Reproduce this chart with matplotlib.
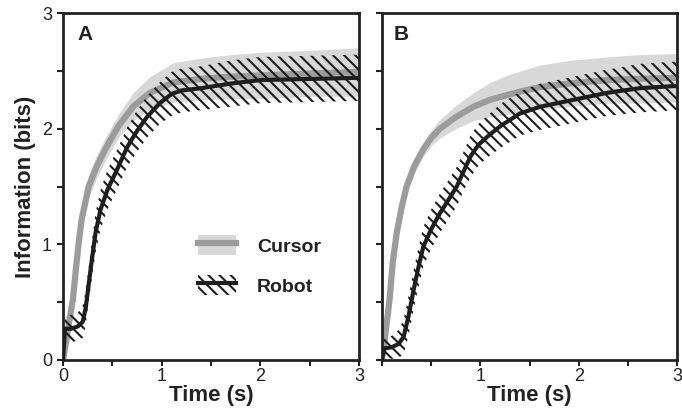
import matplotlib
matplotlib.use("Agg")
import matplotlib.pyplot as plt
from matplotlib.patches import Patch
from matplotlib.lines import Line2D
import numpy as np

plt.rcParams['font.family'] = ['Liberation Sans', 'DejaVu Sans']
plt.rcParams['hatch.linewidth'] = 1.5

# ---------------- data ----------------
# Panel A - Cursor
tA_cur = [0, 0.03, 0.06, 0.1, 0.13, 0.16, 0.19, 0.26, 0.34, 0.44, 0.56, 0.71, 0.88,
          1.12, 1.4, 1.7, 2.0, 2.3, 2.6, 3.0]
vA_cur = [0, 0.15, 0.32, 0.52, 0.78, 1.02, 1.22, 1.5, 1.67, 1.84, 2.02, 2.19, 2.31,
          2.4, 2.43, 2.45, 2.46, 2.47, 2.48, 2.49]
sA_cur = [0.02, 0.05, 0.08, 0.1, 0.1, 0.1, 0.1, 0.1, 0.1, 0.1, 0.1, 0.12, 0.14,
          0.17, 0.18, 0.19, 0.2, 0.2, 0.2, 0.21]

# Panel A - Robot
tA_rob = [0, 0.02, 0.08, 0.15, 0.2, 0.23, 0.26, 0.29, 0.33, 0.38, 0.45, 0.55, 0.65,
          0.75, 0.85, 0.98, 1.1, 1.2, 1.4, 1.7, 2.0, 2.5, 3.0]
vA_rob = [0, 0.27, 0.27, 0.29, 0.33, 0.45, 0.65, 0.85, 1.1, 1.3, 1.47, 1.65, 1.84,
          1.98, 2.1, 2.22, 2.3, 2.33, 2.35, 2.39, 2.42, 2.43, 2.44]
sA_rob = [0.05, 0.1, 0.12, 0.12, 0.14, 0.15, 0.15, 0.16, 0.17, 0.17, 0.17, 0.17, 0.17,
          0.18, 0.18, 0.18, 0.19, 0.19, 0.19, 0.2, 0.2, 0.2, 0.2]

# Panel B - Cursor
tB_cur = [0, 0.03, 0.06, 0.08, 0.11, 0.15, 0.2, 0.25, 0.33, 0.42, 0.5, 0.59, 0.75,
          0.93, 1.1, 1.27, 1.45, 1.61, 1.9, 2.29, 2.6, 3.0]
vB_cur = [0, 0.2, 0.4, 0.55, 0.85, 1.1, 1.32, 1.5, 1.68, 1.82, 1.92, 2.0, 2.1,
          2.19, 2.25, 2.29, 2.33, 2.36, 2.39, 2.42, 2.43, 2.44]
sB_cur = [0.02, 0.04, 0.05, 0.06, 0.06, 0.06, 0.06, 0.06, 0.06, 0.06, 0.07, 0.08, 0.1,
          0.12, 0.15, 0.17, 0.18, 0.19, 0.2, 0.2, 0.21, 0.21]

# Panel B - Robot
tB_rob = [0, 0.02, 0.1, 0.17, 0.22, 0.27, 0.32, 0.37, 0.42, 0.5, 0.59, 0.68, 0.76,
          0.84, 0.9, 0.98, 1.07, 1.2, 1.4, 1.61, 1.95, 2.29, 2.62, 3.0]
vB_rob = [0, 0.1, 0.11, 0.14, 0.2, 0.38, 0.6, 0.8, 0.98, 1.13, 1.27, 1.39, 1.5,
          1.65, 1.76, 1.86, 1.93, 2.02, 2.13, 2.19, 2.25, 2.31, 2.35, 2.37]
sB_rob = [0.05, 0.08, 0.1, 0.12, 0.15, 0.17, 0.17, 0.17, 0.17, 0.17, 0.17, 0.17, 0.17,
          0.17, 0.18, 0.18, 0.18, 0.19, 0.19, 0.2, 0.2, 0.2, 0.21, 0.21]

panel_labels = ['A', 'B']
xtick_vals = [0, 0.5, 1, 1.5, 2, 2.5, 3]
xtick_labels_A = ['0', '', '1', '', '2', '', '3']
xtick_labels_B = ['', '', '1', '', '2', '', '3']
ytick_vals = [0, 0.5, 1, 1.5, 2, 2.5, 3]
ytick_labels = ['0', '', '1', '', '2', '', '3']
legend_labels = ['Cursor', 'Robot']

# ---------------- styles ----------------
BAND = '#d8d8d8'
CURLINE = '#9c9c9c'
ROB = '#1e1e1e'
SPINE = '#222222'
HATCH = '\\\\\\'

fig = plt.figure(figsize=(6.82, 4.20), dpi=100)
axA = fig.add_axes([63/682, 60/420, 296/682, 347/420])
axB = fig.add_axes([382/682, 60/420, 295/682, 347/420])

panels = [
    (axA, tA_cur, vA_cur, sA_cur, tA_rob, vA_rob, sA_rob, xtick_labels_A, ytick_labels),
    (axB, tB_cur, vB_cur, sB_cur, tB_rob, vB_rob, sB_rob, xtick_labels_B, [''] * 7),
]

for i, (ax, tc, vc, sc, tr, vr, sr, xl, yl) in enumerate(panels):
    tc, vc, sc = np.array(tc), np.array(vc), np.array(sc)
    tr, vr, sr = np.array(tr), np.array(vr), np.array(sr)
    ax.fill_between(tc, vc - sc, vc + sc, color=BAND, lw=0, zorder=1)
    ax.plot(tc, vc, color=CURLINE, lw=4.5, solid_capstyle='butt', zorder=2)
    ax.fill_between(tr, vr - sr, vr + sr, facecolor='none', edgecolor=ROB,
                    hatch=HATCH, lw=0, zorder=3)
    ax.plot(tr, vr, color=ROB, lw=3, zorder=4)

    ax.set_xlim(0, 3)
    ax.set_ylim(0, 3)
    ax.set_xticks(xtick_vals)
    ax.set_xticklabels(xl)
    ax.set_yticks(ytick_vals)
    ax.set_yticklabels(yl)
    ax.tick_params(direction='out', length=4, width=1.5, color=SPINE,
                   labelsize=13, labelcolor=SPINE)
    ax.tick_params(axis='x', pad=2)
    ax.tick_params(axis='y', pad=4)
    for s in ax.spines.values():
        s.set_linewidth(2)
        s.set_color(SPINE)
    ax.set_xlabel('Time (s)', fontsize=16, fontweight='bold', color=SPINE, labelpad=0)
    ax.text(0.05 if i == 0 else 0.04, 0.965, panel_labels[i], transform=ax.transAxes,
            fontsize=15, fontweight='bold', color=SPINE, va='top', ha='left')

axA.set_ylabel('Information (bits)', fontsize=16, fontweight='bold', color=SPINE,
               labelpad=4)

handles = [
    (Patch(facecolor=BAND, lw=0), Line2D([], [], color=CURLINE, lw=4.5)),
    (Patch(facecolor='none', edgecolor=ROB, hatch=HATCH, lw=0),
     Line2D([], [], color=ROB, lw=3)),
]
leg = axA.legend(handles, legend_labels, loc='upper left', bbox_to_anchor=(0.455, 0.36),
                 frameon=False, borderpad=0, borderaxespad=0, handlelength=1.95,
                 handleheight=1.2, handletextpad=1.1, labelspacing=1.0,
                 prop={'size': 14, 'weight': 'bold'})
for t in leg.get_texts():
    t.set_color(SPINE)

fig.savefig('out.png', dpi=100)
